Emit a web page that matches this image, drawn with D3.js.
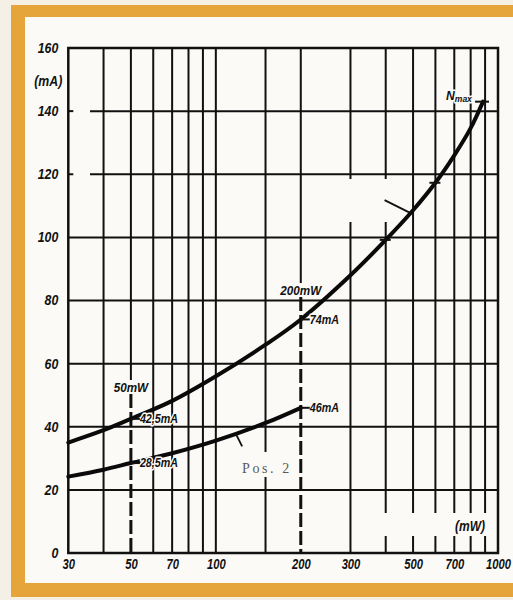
<!DOCTYPE html>
<html>
<head>
<meta charset="utf-8">
<script src="https://cdn.jsdelivr.net/npm/d3@7"></script>
<style>
  html, body { margin: 0; padding: 0; background: #f5f0e6; }
  svg { display: block; }
  .lbl { font-family: "Liberation Sans", Arial, sans-serif; font-weight: bold; font-style: italic; fill: #111; }
  .halo { stroke: #fbfaf6; stroke-width: 3px; paint-order: stroke; stroke-linejoin: round; }
</style>
</head>
<body>
<svg id="chart" width="513" height="600"></svg>
<script>
// Supply current versus output power, two switch positions (log power axis)
const gridPower = [40, 50, 60, 70, 80, 90, 100, 150, 200, 300, 400, 500, 600, 700, 800, 900];
const powerTicks = [30, 50, 70, 100, 200, 300, 500, 700, 1000];
const currentTicks = [0, 20, 40, 60, 80, 100, 120, 140, 160];

// Pos. 1 curve, up to the maximum output
const pos1Power   = [30, 40, 50, 70, 100, 150, 200, 300, 400, 500, 600, 700, 800, 885];
const pos1Current = [35, 38.9, 42.5, 48.2, 56, 66, 74, 88, 99.2, 108.6, 117.3, 126, 134.6, 143];

// Pos. 2 curve, up to 200 mW
const pos2Power   = [30, 40, 50, 70, 100, 150, 200];
const pos2Current = [24.2, 26.4, 28.5, 31.6, 35.6, 41.2, 46];

// Marked operating points
const markPower   = [50, 50, 200, 200];
const markCurrent = [42.5, 28.5, 74, 46];
const markText    = ["42,5mA", "28,5mA", "74mA", "46mA"];
const refPower    = [50, 200];
const refText     = ["50mW", "200mW"];
const pos1Ticks   = [400, 600];
const nMaxPower   = 885;
const nMaxCurrent = 143;

const svg = d3.select("#chart");
const x = d3.scaleLog().domain([30, 1000]).range([68.3, 498]);
const y = d3.scaleLinear().domain([0, 160]).range([553, 48]);
const [x0, x1] = x.range();
const [yb, yt] = y.range();
const ink = "#111";
const paper = "#fbfaf6";

// bold italic, horizontally condensed lettering
function letter(px, py, txt, size, sx, anchor) {
  return svg.append("text").attr("class", "lbl halo")
    .attr("transform", `translate(${px},${py}) scale(${sx},1)`)
    .attr("dy", "0.35em").attr("text-anchor", anchor || "start")
    .attr("font-size", size).text(txt);
}

// page frame: orange band and paper
svg.append("rect").attr("x", 0).attr("y", 0).attr("width", 513).attr("height", 600).attr("fill", "#f5f0e6");
svg.append("rect").attr("x", 11).attr("y", 5).attr("width", 502).attr("height", 592).attr("fill", "#e6a53a");
svg.append("rect").attr("x", 25).attr("y", 17).attr("width", 488).attr("height", 566).attr("fill", paper);

const grid = svg.append("g").attr("stroke", ink).attr("fill", "none");

// horizontal grid
currentTicks.filter(v => v > 0 && v < 160).forEach(v => {
  const start = v >= 120 ? 90 : x0;
  grid.append("line").attr("x1", start).attr("x2", x1).attr("y1", y(v)).attr("y2", y(v)).attr("stroke-width", 2);
  if (v >= 120) grid.append("line").attr("x1", x0).attr("x2", x0 + 5).attr("y1", y(v)).attr("y2", y(v)).attr("stroke-width", 2);
});

// vertical grid
gridPower.filter(p => !refPower.includes(p)).forEach(p => {
  grid.append("line").attr("x1", x(p)).attr("x2", x(p)).attr("y1", yt).attr("y2", yb).attr("stroke-width", 2);
});

// reference power lines: solid above the label, dashed below
const refLabelY = [387, 290];
refPower.forEach((p, i) => {
  grid.append("line").attr("x1", x(p)).attr("x2", x(p)).attr("y1", yt).attr("y2", refLabelY[i] - 7).attr("stroke-width", 2);
  grid.append("line").attr("x1", x(p)).attr("x2", x(p)).attr("y1", refLabelY[i] + 7).attr("y2", yb)
    .attr("stroke-width", 3).attr("stroke-dasharray", "14,4");
});

// cleared patches in the grid
svg.append("rect").attr("x", 341).attr("y", 179).attr("width", 56).attr("height", 43).attr("fill", paper);
svg.append("rect").attr("x", 372).attr("y", 513).attr("width", 124).attr("height", 23).attr("fill", paper);
svg.append("rect").attr("x", 238).attr("y", 452).attr("width", 56).attr("height", 25).attr("fill", paper);

// plot frame
svg.append("rect").attr("x", x0).attr("y", yt).attr("width", x1 - x0).attr("height", yb - yt)
  .attr("fill", "none").attr("stroke", ink).attr("stroke-width", 2.5);

// curves
const line = d3.line().x(d => x(d[0])).y(d => y(d[1])).curve(d3.curveCatmullRom.alpha(0.5));
[d3.zip(pos1Power, pos1Current), d3.zip(pos2Power, pos2Current)].forEach(pts => {
  svg.append("path").datum(pts).attr("d", line)
    .attr("fill", "none").attr("stroke", "#0a0a0a").attr("stroke-width", 4).attr("stroke-linecap", "round");
});

// marks at 400 and 600 mW on Pos. 1
pos1Ticks.forEach(p => {
  const c = pos1Current[pos1Power.indexOf(p)];
  svg.append("line").attr("x1", x(p) - 6).attr("x2", x(p) + 5).attr("y1", y(c)).attr("y2", y(c))
    .attr("stroke", ink).attr("stroke-width", 2);
});

// leader lines towards the curves
svg.append("line").attr("x1", x(490) - 26).attr("y1", y(107.7) - 13).attr("x2", x(490)).attr("y2", y(107.7))
  .attr("stroke", ink).attr("stroke-width", 1.8);
svg.append("line").attr("x1", x(118)).attr("y1", y(37.6)).attr("x2", x(118) + 6).attr("y2", y(37.6) + 12)
  .attr("stroke", ink).attr("stroke-width", 1.8);

// operating point labels
markPower.forEach((p, i) => {
  const px = x(p), py = y(markCurrent[i]);
  letter(px + 9, py, markText[i], 12.5, 0.86);
  svg.append("line").attr("x1", px).attr("x2", px + 9).attr("y1", py).attr("y2", py).attr("stroke", ink).attr("stroke-width", 2);
});
refPower.forEach((p, i) => letter(x(p), refLabelY[i], refText[i], 13, 0.9, "middle"));

// maximum output mark
svg.append("line").attr("x1", x(nMaxPower) - 8).attr("x2", x(nMaxPower) + 6).attr("y1", y(nMaxCurrent)).attr("y2", y(nMaxCurrent))
  .attr("stroke", ink).attr("stroke-width", 2);
const nmax = svg.append("text").attr("class", "lbl halo")
  .attr("transform", `translate(${x(nMaxPower) - 37},${y(nMaxCurrent) - 2}) scale(0.9,1)`).attr("font-size", 13.5);
nmax.append("tspan").text("N");
nmax.append("tspan").attr("font-size", 9.5).attr("dy", 2).text("max");

// Pos. 2 caption
svg.append("text").attr("x", 242).attr("y", 468).attr("dy", "0.35em")
  .attr("font-family", "Liberation Serif, serif").attr("font-size", 14).attr("letter-spacing", 2.6)
  .attr("fill", "#5a5a5a").text("Pos. 2");

// axis lettering
const xAxis = d3.axisBottom(x).tickValues(powerTicks).tickFormat(d3.format("d")).tickSize(0).tickPadding(0);
const gx = svg.append("g").attr("transform", `translate(0,${yb + 6})`).call(xAxis);
gx.select(".domain").remove();
gx.selectAll("text").attr("class", "lbl").attr("font-size", 14).attr("dy", "0.71em")
  .attr("transform", "scale(0.8,1)").attr("fill", ink);

const yAxis = d3.axisLeft(y).tickValues(currentTicks).tickFormat(d3.format("d")).tickSize(0).tickPadding(0);
const gy = svg.append("g").attr("transform", `translate(${x0 - 10},0)`).call(yAxis);
gy.select(".domain").remove();
gy.selectAll("text").attr("class", "lbl").attr("font-size", 14)
  .attr("transform", "scale(0.88,1)").attr("fill", ink);

letter(x0 - 6, 81, "(mA)", 14, 0.88, "end");
letter(485, 526, "(mW)", 14, 0.86, "end");
</script>
</body>
</html>
